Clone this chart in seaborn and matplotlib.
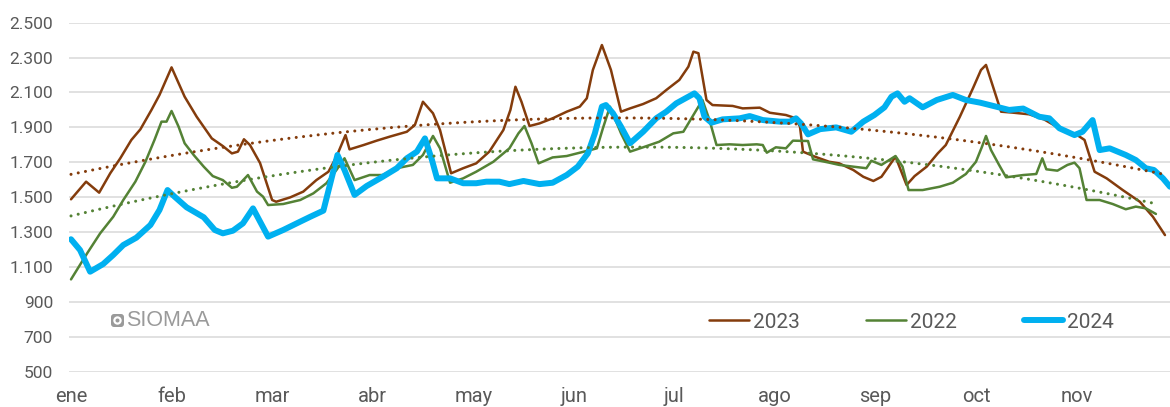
import numpy as np
import pandas as pd
import matplotlib
matplotlib.use("Agg")
import matplotlib.pyplot as plt
from matplotlib.patches import FancyBboxPatch, Circle
from matplotlib.transforms import IdentityTransform
import seaborn as sns

# ---------------- data (x in month positions: 0 = ene, 1 = feb, ...) ----------------
months = ["ene", "feb", "mar", "abr", "may", "jun", "jul", "ago", "sep", "oct", "nov"]
yticks = [500, 700, 900, 1100, 1300, 1500, 1700, 1900, 2100, 2300, 2500]

x_2023 = [0.00, 0.15, 0.28, 0.39, 0.49, 0.60, 0.69, 0.80, 0.88, 1.00, 1.13, 1.25, 1.40, 1.51,
          1.60, 1.66, 1.72, 1.78, 1.88, 2.00, 2.04, 2.18, 2.31, 2.44, 2.56, 2.64, 2.73, 2.77,
          2.91, 3.04, 3.17, 3.34, 3.42, 3.50, 3.60, 3.67, 3.78, 3.90, 4.03, 4.16, 4.30, 4.37,
          4.42, 4.48, 4.56, 4.66, 4.79, 4.93, 5.06, 5.13, 5.19, 5.28, 5.37, 5.47, 5.56, 5.69,
          5.82, 5.92, 6.05, 6.14, 6.19, 6.24, 6.32, 6.38, 6.58, 6.68, 6.85, 6.95, 7.11, 7.21,
          7.25, 7.28, 7.40, 7.54, 7.64, 7.78, 7.88, 7.98, 8.06, 8.20, 8.31, 8.39, 8.51, 8.62,
          8.70, 8.84, 8.97, 9.05, 9.10, 9.17, 9.25, 9.36, 9.53, 9.68, 9.83, 10.01, 10.08,
          10.18, 10.30, 10.46, 10.63, 10.76, 10.88]
v_2023 = [1488, 1589, 1526, 1637, 1723, 1828, 1889, 2000, 2086, 2244, 2076, 1961, 1837, 1793,
          1751, 1761, 1832, 1799, 1696, 1484, 1474, 1499, 1532, 1598, 1646, 1732, 1856, 1774,
          1799, 1824, 1847, 1875, 1914, 2047, 1981, 1885, 1637, 1666, 1694, 1761, 1885, 2000,
          2133, 2047, 1908, 1923, 1952, 1990, 2019, 2067, 2229, 2372, 2229, 1990, 2009, 2034,
          2067, 2114, 2172, 2248, 2334, 2325, 2057, 2028, 2023, 2009, 2013, 1984, 1971, 1952,
          1904, 1761, 1732, 1703, 1694, 1656, 1617, 1593, 1617, 1732, 1570, 1621, 1675, 1751,
          1799, 1961, 2124, 2229, 2258, 2133, 1990, 1985, 1975, 1945, 1895, 1855, 1828,
          1646, 1608, 1541, 1474, 1388, 1283]

x_2022 = [0.00, 0.16, 0.29, 0.42, 0.52, 0.64, 0.74, 0.83, 0.90, 0.95, 1.00, 1.07, 1.13, 1.22,
          1.32, 1.41, 1.51, 1.60, 1.65, 1.76, 1.85, 1.91, 1.96, 2.11, 2.28, 2.41, 2.54, 2.64,
          2.72, 2.82, 2.97, 3.10, 3.24, 3.40, 3.50, 3.60, 3.67, 3.77, 3.90, 4.03, 4.20, 4.36,
          4.45, 4.51, 4.58, 4.65, 4.79, 4.93, 5.06, 5.23, 5.29, 5.36, 5.47, 5.56, 5.69, 5.85,
          5.99, 6.09, 6.19, 6.28, 6.35, 6.42, 6.55, 6.68, 6.82, 6.88, 6.92, 7.01, 7.11, 7.18,
          7.33, 7.38, 7.54, 7.64, 7.78, 7.91, 7.96, 8.06, 8.20, 8.27, 8.33, 8.47, 8.64, 8.77,
          8.90, 9.00, 9.06, 9.10, 9.15, 9.23, 9.30, 9.47, 9.60, 9.66, 9.70, 9.81, 9.91, 9.98,
          10.03, 10.10, 10.23, 10.36, 10.49, 10.59, 10.69, 10.79]
v_2022 = [1029, 1178, 1293, 1388, 1484, 1589, 1703, 1828, 1933, 1933, 1994, 1904, 1809, 1742,
          1675, 1621, 1598, 1554, 1560, 1627, 1532, 1503, 1455, 1461, 1484, 1522, 1580, 1656,
          1723, 1598, 1627, 1627, 1666, 1685, 1742, 1851, 1780, 1583, 1608, 1646, 1703, 1780,
          1866, 1908, 1809, 1694, 1728, 1736, 1755, 1780, 1895, 2019, 1866, 1761, 1786, 1818,
          1866, 1875, 1971, 2057, 1942, 1799, 1803, 1799, 1803, 1799, 1755, 1786, 1780, 1824,
          1822, 1717, 1698, 1685, 1675, 1666, 1709, 1685, 1736, 1675, 1541, 1541, 1560, 1583,
          1633, 1703, 1789, 1851, 1770, 1685, 1614, 1627, 1633, 1723, 1660, 1652, 1685, 1698,
          1666, 1484, 1484, 1461, 1431, 1446, 1436, 1404]

x_2024 = [0.00, 0.09, 0.19, 0.32, 0.42, 0.52, 0.65, 0.79, 0.88, 0.96, 1.03, 1.15, 1.32, 1.43,
          1.51, 1.61, 1.71, 1.81, 1.96, 2.11, 2.28, 2.38, 2.51, 2.65, 2.72, 2.82, 2.94, 3.10,
          3.24, 3.34, 3.44, 3.52, 3.59, 3.64, 3.77, 3.90, 4.03, 4.13, 4.26, 4.36, 4.50, 4.66,
          4.79, 4.93, 5.04, 5.14, 5.21, 5.28, 5.32, 5.39, 5.47, 5.56, 5.69, 5.82, 5.92, 6.02,
          6.14, 6.20, 6.25, 6.30, 6.37, 6.48, 6.65, 6.75, 6.88, 7.05, 7.15, 7.21, 7.26, 7.33,
          7.45, 7.61, 7.76, 7.88, 7.99, 8.09, 8.16, 8.22, 8.29, 8.34, 8.47, 8.61, 8.77, 8.90,
          9.04, 9.20, 9.33, 9.47, 9.63, 9.73, 9.83, 9.98, 10.06, 10.16, 10.23, 10.33, 10.49,
          10.59, 10.69, 10.77, 10.86, 10.93]
v_2024 = [1259, 1197, 1073, 1117, 1169, 1226, 1268, 1341, 1427, 1541, 1503, 1442, 1385, 1312,
          1293, 1308, 1350, 1436, 1274, 1312, 1360, 1388, 1423, 1742, 1656, 1513, 1564, 1617,
          1666, 1723, 1761, 1837, 1713, 1608, 1608, 1580, 1580, 1589, 1589, 1575, 1593, 1575,
          1583, 1627, 1675, 1751, 1866, 2019, 2028, 1981, 1904, 1809, 1875, 1952, 1990, 2038,
          2076, 2095, 2067, 1961, 1927, 1946, 1952, 1965, 1942, 1933, 1933, 1952, 1923, 1860,
          1890, 1900, 1875, 1933, 1971, 2015, 2076, 2095, 2047, 2067, 2015, 2057, 2086, 2057,
          2042, 2019, 2000, 2008, 1961, 1952, 1895, 1856, 1875, 1942, 1770, 1780, 1742,
          1713, 1666, 1656, 1608, 1560]

# ---------------- styling ----------------
sns.set_theme(style="white")
plt.rcParams["font.family"] = ["Roboto", "DejaVu Sans"]

C_BROWN = "#843C0C"
C_GREEN = "#548235"
C_BLUE = "#00B0F0"
C_TEXT = "#595959"
C_GRID = "#D9D9D9"
C_MARK = "#9A9A9A"

fig = plt.figure(figsize=(11.70, 4.07), dpi=100)
ax = fig.add_axes([69 / 1170, 1 - 371.7 / 407, 1 - 69 / 1170, (371.7 - 22.7) / 407])

df = pd.concat([
    pd.DataFrame({"x": x_2023, "v": v_2023, "serie": "2023"}),
    pd.DataFrame({"x": x_2022, "v": v_2022, "serie": "2022"}),
    pd.DataFrame({"x": x_2024, "v": v_2024, "serie": "2024"}),
])

styles = {"2023": (C_BROWN, 1.8), "2022": (C_GREEN, 1.8), "2024": (C_BLUE, 4.3)}
for name in ["2023", "2022", "2024"]:
    col, lw = styles[name]
    sub = df[df["serie"] == name]
    sns.lineplot(data=sub, x="x", y="v", ax=ax, color=col, linewidth=lw,
                 sort=False, estimator=None, label=name, legend=False,
                 solid_capstyle="round", solid_joinstyle="round")

# polynomial (order 2) trend lines, as Excel does, fitted on a uniform grid
for xs, vs, col in [(x_2023, v_2023, C_BROWN), (x_2022, v_2022, C_GREEN)]:
    grid = np.linspace(xs[0], xs[-1], 400)
    fit = np.polyfit(grid, np.interp(grid, xs, vs), 2)
    ax.plot(grid, np.polyval(fit, grid), color=col, linewidth=2.2,
            linestyle=(0, (0.01, 2.4)), dash_capstyle="round", zorder=5)

ax.set_xlim(-0.02, 10.93)
ax.set_ylim(500, 2500)
ax.set_yticks(yticks)
ax.set_yticklabels([f"{t:,}".replace(",", ".") for t in yticks])
ax.set_xticks(range(len(months)))
ax.set_xticklabels(months)
ax.set_xlabel("")
ax.set_ylabel("")
ax.grid(axis="y", color=C_GRID, linewidth=1.1)
ax.grid(axis="x", visible=False)
for s in ax.spines.values():
    s.set_visible(False)
ax.tick_params(axis="y", length=0, pad=11.5, labelsize=12.5, labelcolor=C_TEXT)
ax.tick_params(axis="x", length=0, pad=11, labelsize=14.5, labelcolor=C_TEXT)

# legend
h, l = ax.get_legend_handles_labels()
leg = fig.legend(h, l, loc="center left", bbox_to_anchor=(709 / 1170, 1 - 322 / 407),
                 ncol=3, frameon=False, fontsize=15, handlelength=1.9,
                 handletextpad=0.2, columnspacing=3.2, borderpad=0, borderaxespad=0)
for t in leg.get_texts():
    t.set_color(C_TEXT)

# watermark: icon (drawn as shapes, in pixels) + text
W, H = 1170, 407
icon = FancyBboxPatch((111, H - 327), 13, 13, boxstyle="round,pad=0,rounding_size=3",
                      transform=IdentityTransform(), facecolor=C_MARK, edgecolor="none")
fig.add_artist(icon)
fig.add_artist(Circle((117.5, H - 320.5), 4.2, transform=IdentityTransform(),
                      facecolor="white", edgecolor="none"))
fig.add_artist(Circle((117.5, H - 320.5), 2.0, transform=IdentityTransform(),
                      facecolor=C_MARK, edgecolor="none"))
fig.text(126 / W, 1 - 320 / H, "SIOMAA", family=["Liberation Sans", "DejaVu Sans"],
         fontsize=15.5, color=C_MARK, va="center", ha="left")

fig.savefig("out.png", dpi=100)
